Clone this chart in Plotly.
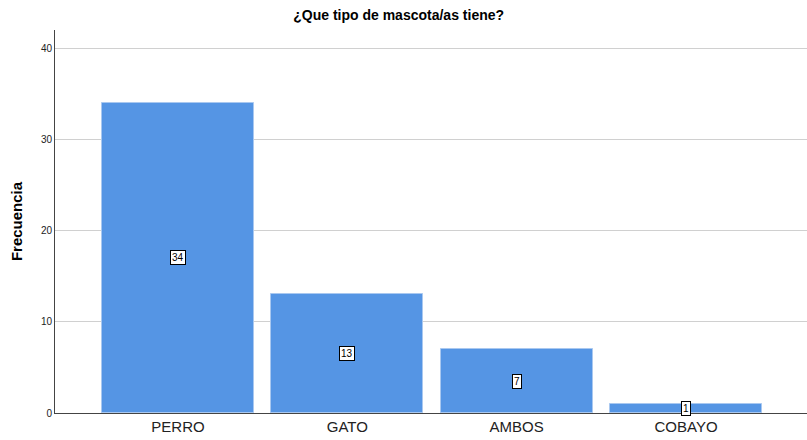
import plotly.graph_objects as go

categories = ["PERRO", "GATO", "AMBOS", "COBAYO"]
values = [34, 13, 7, 1]
y_ticks = [0, 10, 20, 30, 40]

fig = go.Figure()
fig.add_trace(go.Bar(
    x=categories, y=values,
    marker=dict(color="#5595E4", line=dict(color="#A9C8F0", width=1)),
    width=0.897,
    hoverinfo="skip",
))

for c, v in zip(categories, values):
    fig.add_annotation(
        x=c, y=v / 2, text=str(v), showarrow=False,
        font=dict(family="Liberation Sans, Arial", size=10, color="black"),
        bgcolor="white", bordercolor="black", borderwidth=1, borderpad=1,
    )

fig.update_layout(
    width=807, height=440,
    margin=dict(l=55, r=0, t=30, b=27, autoexpand=False),
    paper_bgcolor="white", plot_bgcolor="white",
    title=dict(text="<b>¿Que tipo de mascota/as tiene?</b>", x=0.494, xanchor="center",
               y=0.965, yanchor="middle",
               font=dict(family="Liberation Sans, Arial", size=14, color="black")),
    font=dict(family="Liberation Sans, Arial", color="#222"),
    showlegend=False,
    bargap=0,
)
fig.update_xaxes(
    range=[-0.726, 3.714], showline=True, linecolor="#444", linewidth=1,
    showgrid=False, ticks="", tickfont=dict(size=15, color="#222"),
    automargin=False,
)
fig.update_yaxes(
    range=[0, 42], tickvals=y_ticks, showline=True, linecolor="#444", linewidth=1,
    showgrid=True, gridcolor="#D0D0D0", gridwidth=1, zeroline=False,
    ticks="", tickfont=dict(size=10, color="#222"),
    title=dict(text="<b>Frecuencia</b>", font=dict(size=15, color="black"), standoff=14),
    automargin=False,
)

fig.write_html(
    "out.html",
    config={"displayModeBar": False},
    post_script="document.body.style.margin='0';document.body.style.overflow='hidden';",
)
